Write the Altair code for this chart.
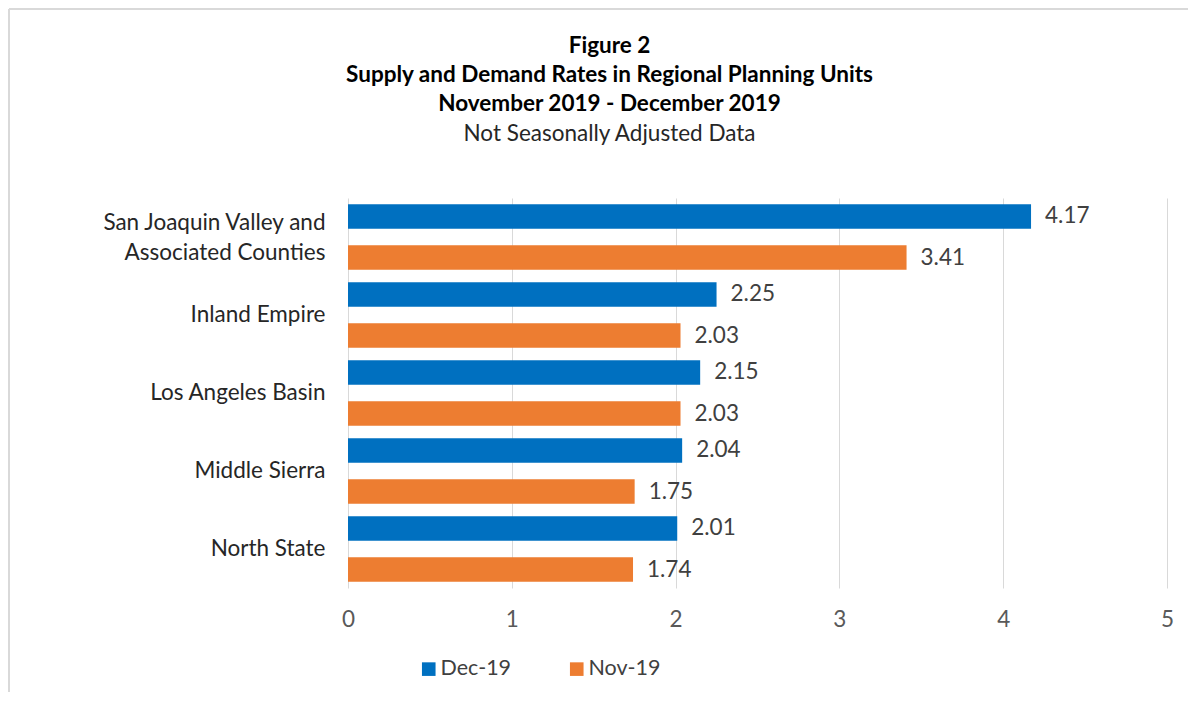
import altair as alt
import pandas as pd

regions = [
    "San Joaquin Valley and|Associated Counties\u00a0\u00a0\u00a0",
    "Inland Empire",
    "Los Angeles Basin",
    "Middle Sierra",
    "North State",
]
series = ["Dec-19", "Nov-19"]
dec_values = [4.17, 2.25, 2.15, 2.04, 2.01]
nov_values = [3.41, 2.03, 2.03, 1.75, 1.74]
colors = ["#0070C0", "#ED7D31"]
x_ticks = [0, 1, 2, 3, 4, 5]

rows = []
for r, d, n in zip(regions, dec_values, nov_values):
    rows.append({"region": r, "series": "Dec-19", "value": d})
    rows.append({"region": r, "series": "Nov-19", "value": n})
df = pd.DataFrame(rows)

FONT = "Lato"
FS = 22.5

y_enc = alt.Y(
    "region:N",
    sort=regions,
    scale=alt.Scale(paddingInner=0, paddingOuter=0),
    axis=alt.Axis(
        title=None,
        domain=False,
        ticks=False,
        grid=False,
        labelPadding=23,
        labelFont=FONT,
        labelFontSize=FS,
        labelColor="#262626",
        labelLimit=400,
        labelLineHeight=30,
        labelExpr="split(datum.label, '|')",
        labelOffset={
            "condition": {"test": "indexof(datum.value, '|') >= 0", "value": -14},
            "value": 0,
        },
    ),
)
yoff_enc = alt.YOffset(
    "series:N",
    sort=series,
    scale=alt.Scale(paddingInner=0.4, paddingOuter=0.15),
)
x_enc = alt.X(
    "value:Q",
    scale=alt.Scale(domain=[0, 5], nice=False),
    axis=alt.Axis(
        title=None,
        values=x_ticks,
        domain=False,
        ticks=False,
        grid=True,
        gridColor="#d9d9d9",
        gridWidth=1,
        labelFlush=False,
        labelPadding=20,
        labelFont=FONT,
        labelFontSize=FS,
        labelColor="#595959",
        format="d",
    ),
)

base = alt.Chart(df)

bars = base.mark_bar().encode(
    x=x_enc,
    y=y_enc,
    yOffset=yoff_enc,
    color=alt.Color(
        "series:N",
        sort=series,
        scale=alt.Scale(domain=series, range=colors),
        legend=alt.Legend(
            title=None,
            orient="none",
            legendX=70,
            legendY=460,
            direction="horizontal",
            symbolType="square",
            symbolSize=185,
            symbolStrokeWidth=0,
            labelFont=FONT,
            labelFontSize=21.5,
            labelColor="#404040",
            labelOffset=1,
            columnPadding=54,
            padding=0,
        ),
    ),
)

labels = base.mark_text(
    align="left", baseline="middle", dx=14, font=FONT, fontSize=FS, color="#404040"
).encode(
    x=x_enc,
    y=y_enc,
    yOffset=yoff_enc,
    text=alt.Text("value:Q", format=".2f"),
)

frame_data = alt.Data(values=[{}])
frame_top = alt.Chart(frame_data).mark_rule(color="#d9d9d9", strokeWidth=2).encode(
    x=alt.value(-339), x2=alt.value(840), y=alt.value(-189)
)
frame_left = alt.Chart(frame_data).mark_rule(color="#d9d9d9", strokeWidth=2).encode(
    x=alt.value(-339), y=alt.value(-189), y2=alt.value(494)
)

chart = (
    alt.layer(frame_top, frame_left, bars, labels)
    .properties(
        width=819,
        height=390,
        padding=0,
        title=alt.TitleParams(
            text=[
                "Figure 2",
                "Supply and Demand Rates in Regional Planning Units",
                "November 2019 - December 2019",
            ],
            subtitle="Not Seasonally Adjusted Data",
            font=FONT,
            fontSize=FS,
            fontWeight="bold",
            color="#000000",
            lineHeight=29,
            subtitleFont=FONT,
            subtitleFontSize=FS,
            subtitleColor="#262626",
            subtitlePadding=7,
            anchor="middle",
            frame="group",
            dx=-148,
            offset=-137,
        ),
    )
    .configure(background="white")
    .configure_view(strokeWidth=0, stroke="transparent")
)

chart.save("out.html", embed_options={"renderer": "svg", "actions": False})
